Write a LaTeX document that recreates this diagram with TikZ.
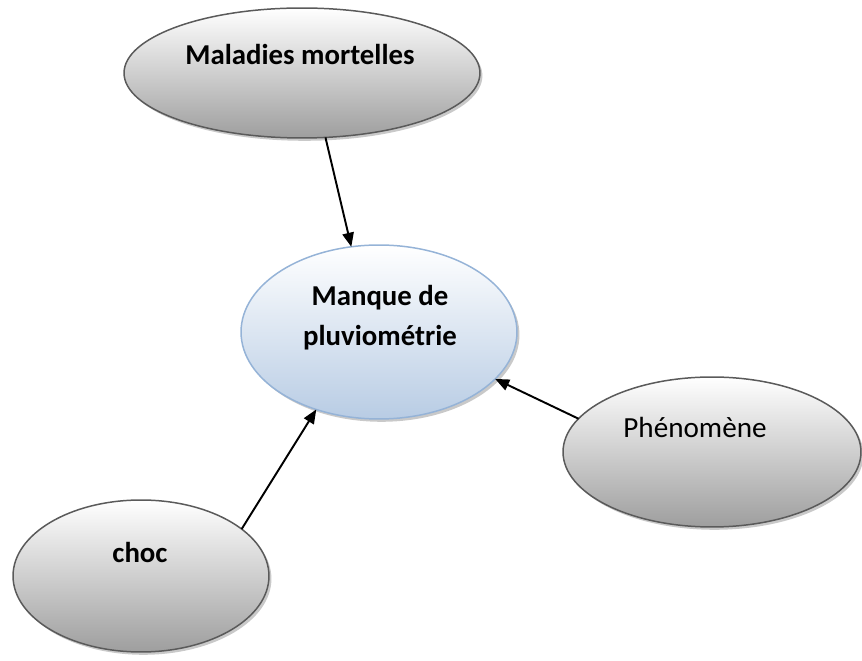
\documentclass[tikz,border=0pt]{standalone}
\usepackage{fontspec}
\setmainfont{Carlito}
\usetikzlibrary{shapes.geometric,shadows,arrows.meta}

\definecolor{ringgray}{RGB}{90,90,90}
\definecolor{ringblue}{RGB}{149,179,215}
\definecolor{fillblue}{RGB}{184,204,228}

\tikzset{
  bubble/.style={ellipse, draw=ringgray, line width=0.85pt, inner sep=0pt, outer sep=0pt,
    top color=white, bottom color=black!38,
    drop shadow={shadow xshift=1.4pt, shadow yshift=-1.6pt, fill=black!30, opacity=0.7}},
  mainbubble/.style={bubble, draw=ringblue, bottom color=fillblue},
  word/.style={font=\fontsize{16.6}{22.7}\selectfont, align=center, inner sep=0pt},
  boldword/.style={word, font=\fontsize{16.4}{22.7}\selectfont\bfseries},
  link/.style={line width=1.1pt, -{Triangle[length=8pt,width=6.5pt]}}
}

\begin{document}
\begin{tikzpicture}[x=0.02cm, y=-0.02cm]

\useasboundingbox (0,0) rectangle (862,661);

\node[bubble, minimum width=7.12cm, minimum height=2.6cm] (mal) at (302,73) {};
\node[mainbubble, minimum width=5.52cm, minimum height=3.48cm] (manque) at (379,332) {};
\node[bubble, minimum width=5.96cm, minimum height=3cm] (phen) at (712,452) {};
\node[bubble, minimum width=5.12cm, minimum height=3.04cm] (choc) at (141,576) {};

\node[boldword] (malT) at (300,55) {Maladies mortelles};
\node[boldword] (manqueT) at (380,318) {Manque de\\pluviométrie};
\node[word] (phenT) at (695,427) {Phénomène};
\node[boldword] (chocT) at (140,552) {choc};

\path[draw, link] (mal.-70) -- (manque.108);
\path[draw, link] (phen.166.5) -- (manque.-22);
\path[draw, link] (choc.25.6) -- (manque.-129);

\end{tikzpicture}
\end{document}
